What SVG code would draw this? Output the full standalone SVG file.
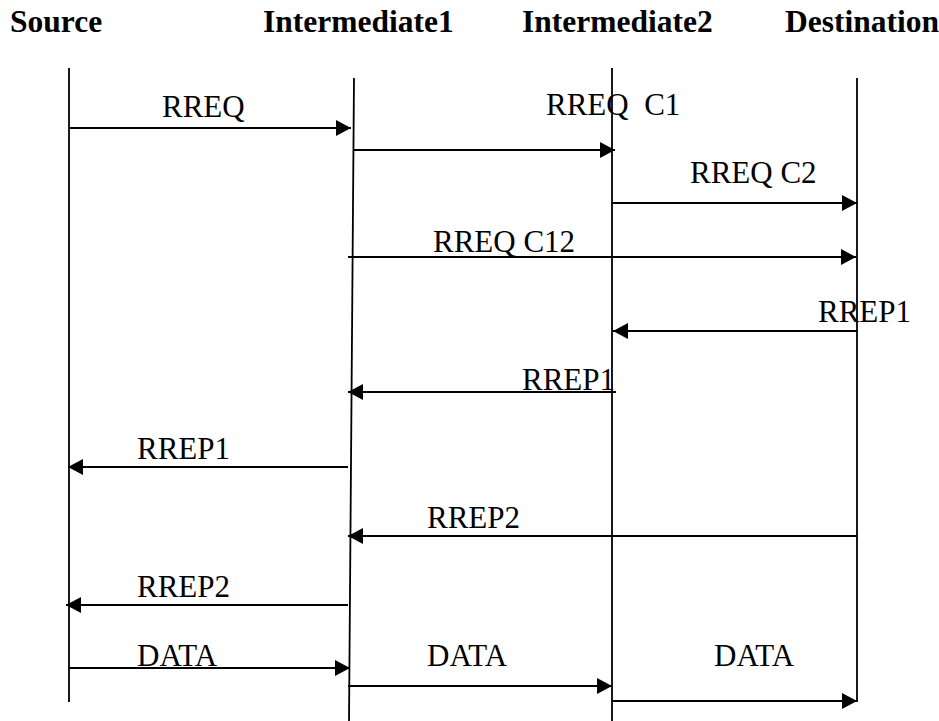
<svg xmlns="http://www.w3.org/2000/svg" width="939" height="721" viewBox="0 0 939 721">
<style>
.hdr{font-family:'Liberation Serif','Times New Roman',Tinos,'DejaVu Serif',serif;font-weight:bold;font-size:31.5px;fill:#000}
.lbl{font-family:'Liberation Serif','Times New Roman',Tinos,'DejaVu Serif',serif;font-size:31px;fill:#000;white-space:pre}
.life{stroke:#000;stroke-width:1.8;fill:none}
.msg{stroke:#000;stroke-width:2.2;fill:none;marker-end:url(#ah)}
</style>
<defs>
<marker id="ah" markerUnits="userSpaceOnUse" markerWidth="16" markerHeight="16" refX="15" refY="8" orient="auto">
<path d="M0,0 L15,8 L0,16 z" fill="#000"/>
</marker>
</defs>
<rect width="939" height="721" fill="#fff"/>
<g id="source">
<text class="hdr" x="10" y="32">Source</text>
<line class="life" x1="69" y1="68" x2="69" y2="702"/>
</g>
<g id="intermediate1">
<text class="hdr" x="263" y="32">Intermediate1</text>
<line class="life" x1="354" y1="78" x2="349" y2="721"/>
</g>
<g id="intermediate2">
<text class="hdr" x="522" y="32">Intermediate2</text>
<line class="life" x1="612" y1="68" x2="612" y2="721"/>
</g>
<g id="destination">
<text class="hdr" x="785" y="32">Destination</text>
<line class="life" x1="857" y1="78" x2="857" y2="702"/>
</g>
<g id="connectors">
<line class="msg" x1="69" y1="128" x2="351" y2="128"/>
<line class="msg" x1="354" y1="150" x2="615" y2="150"/>
<line class="msg" x1="612" y1="203" x2="857" y2="203"/>
<line class="msg" x1="348" y1="257" x2="856" y2="257"/>
<line class="msg" x1="857" y1="331" x2="613" y2="331"/>
<line class="msg" x1="616" y1="392" x2="348" y2="392"/>
<line class="msg" x1="348" y1="467" x2="68" y2="467"/>
<line class="msg" x1="857" y1="536" x2="348" y2="536"/>
<line class="msg" x1="348" y1="605" x2="66" y2="605"/>
<line class="msg" x1="69" y1="668" x2="350" y2="668"/>
<line class="msg" x1="348" y1="686" x2="612" y2="686"/>
<line class="msg" x1="612" y1="701" x2="857" y2="701"/>
</g>
<g id="labels">
<text class="lbl" x="162" y="117">RREQ</text>
<text class="lbl" x="546" y="115">RREQ  C1</text>
<text class="lbl" x="690" y="183">RREQ C2</text>
<text class="lbl" x="433" y="252">RREQ C12</text>
<text class="lbl" x="818" y="322">RREP1</text>
<text class="lbl" x="522" y="390">RREP1</text>
<text class="lbl" x="137" y="459">RREP1</text>
<text class="lbl" x="427" y="528">RREP2</text>
<text class="lbl" x="137" y="597">RREP2</text>
<text class="lbl" x="137" y="666">DATA</text>
<text class="lbl" x="427" y="666">DATA</text>
<text class="lbl" x="714" y="666">DATA</text>
</g>
</svg>
